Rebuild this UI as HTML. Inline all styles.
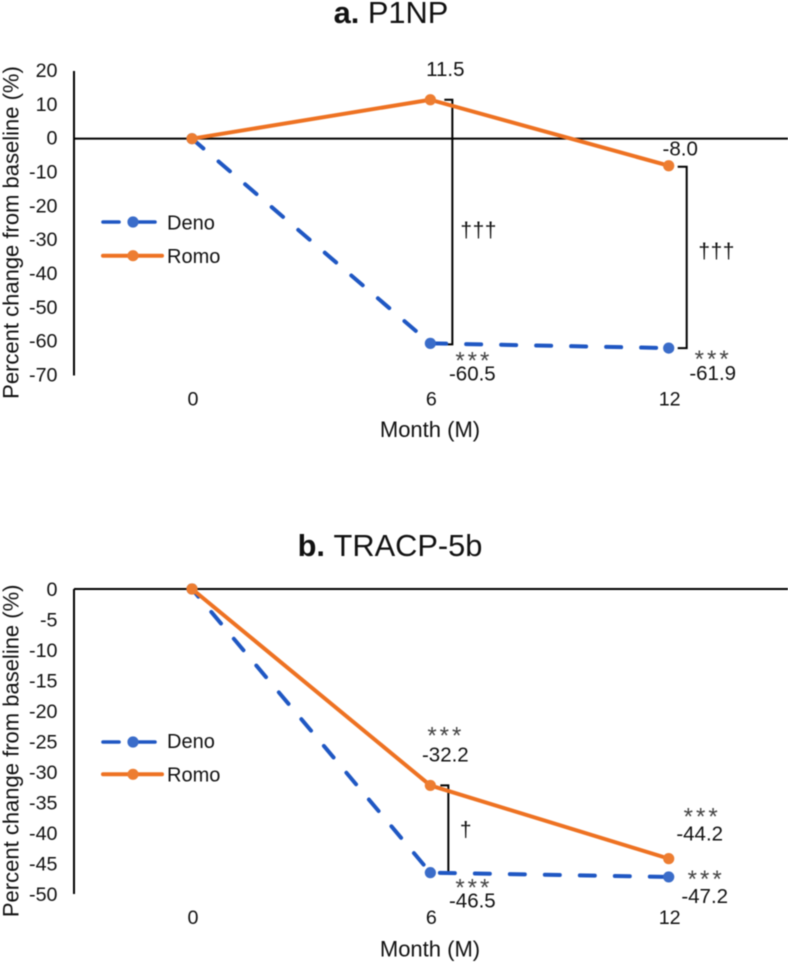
<!DOCTYPE html>
<html lang="en">
<head>
<meta charset="utf-8">
<title>P1NP and TRACP-5b percent change from baseline</title>
<style>
html,body{margin:0;padding:0;background:#fff;}
body{width:788px;height:963px;overflow:hidden;}
svg{display:block;filter:blur(0.5px);}
text{font-family:"Liberation Sans",sans-serif;fill:#111;}
</style>
</head>
<body>
<svg id="figure" xmlns="http://www.w3.org/2000/svg" width="788" height="963" viewBox="0 0 788 963"></svg>
<script>
const months = ['0', '6', '12'];
const p1npTicks = [20, 10, 0, -10, -20, -30, -40, -50, -60, -70];
const p1npDeno = [0, -60.5, -61.9];
const p1npRomo = [0, 11.5, -8.0];
const tracpTicks = [0, -5, -10, -15, -20, -25, -30, -35, -40, -45, -50];
const tracpDeno = [0, -46.5, -47.2];
const tracpRomo = [0, -32.2, -44.2];

const NS = 'http://www.w3.org/2000/svg';
const svg = document.getElementById('figure');
const BLUE = '#1f57c3';
const BLUE_MARK = '#3a6cc9';
const ORANGE = '#ee7222';
const ORANGE_MARK = '#ed7d31';

function xScale(i) {
  return 192 + (668.7 - 192) * i / (months.length - 1);
}
function yScaleFor(ticks, top, bottom) {
  const hi = ticks[0];
  const lo = ticks[ticks.length - 1];
  return function (v) {
    return top + (hi - v) / (hi - lo) * (bottom - top);
  };
}
function addText(parent, name, str, x, y, size, anchor) {
  const el = document.createElementNS(NS, 'text');
  
  
  el.setAttribute('x', x);
  el.setAttribute('y', y);
  el.setAttribute('font-size', size);
  el.setAttribute('text-anchor', anchor);
  el.textContent = str;
  parent.appendChild(el);
  return el;
}
function addPath(parent, name, d, stroke, width) {
  const el = document.createElementNS(NS, 'path');
  
  
  el.setAttribute('d', d);
  el.setAttribute('fill', 'none');
  el.setAttribute('stroke', stroke);
  el.setAttribute('stroke-width', width);
  parent.appendChild(el);
  return el;
}
function addDot(parent, name, x, y, fill) {
  const el = document.createElementNS(NS, 'circle');
  
  
  el.setAttribute('cx', x);
  el.setAttribute('cy', y);
  el.setAttribute('r', 5.6);
  el.setAttribute('fill', fill);
  parent.appendChild(el);
  return el;
}
function linePath(values, y) {
  return values.map(function (v, i) {
    return (i ? 'L' : 'M') + xScale(i) + ' ' + y(v);
  }).join(' ');
}
function drawSeries(g, key, values, y, stroke, markFill, dashed, dashOffset) {
  const line = addPath(g, key + '-line', linePath(values, y), stroke, 4);
  line.setAttribute('stroke-linejoin', 'round');
  if (dashed) {
    line.setAttribute('stroke-dasharray', '15 20');
    line.setAttribute('stroke-dashoffset', dashOffset);
    line.setAttribute('stroke-linecap', 'round');
  }
  values.forEach(function (v, i) {
    addDot(g, key + '-point-month-' + months[i], xScale(i), y(v), markFill);
  });
}
function drawBracket(g, name, xLeft, xRight, yTop, yBottom) {
  addPath(g, name, 'M' + xLeft + ' ' + yTop + ' H' + xRight + ' V' + yBottom + ' H' + xLeft, '#000', 2);
}
function drawStars(g, name, x, yMid) {
  const el = addText(g, name, '***', x + 1.5, yMid + 11, 24, 'middle');
  el.setAttribute('letter-spacing', '3');
  el.style.fill = '#444';
}
function drawDaggers(g, name, str, x, baseline) {
  const el = addText(g, name, str, x, baseline, 21, 'middle');
  el.setAttribute('letter-spacing', '0.5');
}
function drawValue(g, name, value, x, baseline) {
  addText(g, name, value.toFixed(1), x, baseline, 20.5, 'middle');
}
function drawLegend(g, dashY, dashTextY, solidY, solidTextY) {
  const deno = document.createElementNS(NS, 'g');
  
  
  g.appendChild(deno);
  const d1 = addPath(deno, 'legend-deno-swatch', 'M103 ' + dashY + ' H119 M131 ' + dashY + ' H155', BLUE, 3.6);
  d1.setAttribute('stroke-linecap', 'round');
  addDot(deno, 'legend-deno-marker', 133, dashY, BLUE_MARK);
  addText(deno, 'legend-deno-label', 'Deno', 167, dashTextY, 20, 'start');
  const romo = document.createElementNS(NS, 'g');
  
  
  g.appendChild(romo);
  const r1 = addPath(romo, 'legend-romo-swatch', 'M103 ' + solidY + ' H162', ORANGE, 4);
  r1.setAttribute('stroke-linecap', 'round');
  addDot(romo, 'legend-romo-marker', 133, solidY, ORANGE_MARK);
  addText(romo, 'legend-romo-label', 'Romo', 167, solidTextY, 20, 'start');
}
function drawTitle(g, name, letter, label, x, baseline) {
  const t = addText(g, name, '', x, baseline, 30.8, 'middle');
  const b = document.createElementNS(NS, 'tspan');
  b.setAttribute('font-weight', 'bold');
  b.textContent = letter + ' ';
  t.appendChild(b);
  t.appendChild(document.createTextNode(label));
}
function drawFrame(g, ticks, y, zeroWidth, tickOffset, xTickBase, xTitleBase, yTitleMid) {
  const top = y(ticks[0]);
  const bottom = y(ticks[ticks.length - 1]);
  addPath(g, 'y-axis', 'M74 ' + top + ' V' + bottom, '#000', 2);
  addPath(g, 'x-axis-zero-line', 'M74 ' + y(0) + ' H788', '#000', zeroWidth);
  ticks.forEach(function (t) {
    addText(g, 'y-tick-' + t, String(t), 57.5, y(t) + tickOffset, 19.7, 'end');
  });
  months.forEach(function (m, i) {
    addText(g, 'x-tick-' + m, m, xScale(i) + 1, xTickBase, 19.7, 'middle');
  });
  addText(g, 'x-axis-title', 'Month (M)', 430, xTitleBase, 22, 'middle');
  const yt = addText(g, 'y-axis-title', 'Percent change from baseline (%)', 0, 0, 22, 'middle');
  yt.setAttribute('transform', 'translate(18.5 ' + yTitleMid + ') rotate(-90)');
}

/* Panel a: P1NP */
const panelA = document.createElementNS(NS, 'g');


svg.appendChild(panelA);
const yA = yScaleFor(p1npTicks, 71, 375.5);
drawTitle(panelA, 'p1np-chart-title', 'a.', 'P1NP', 391, 23);
drawFrame(panelA, p1npTicks, yA, 2, 6, 405.7, 437, 232.5);
drawBracket(panelA, 'significance-bracket-month-6', xScale(1) + 14, xScale(1) + 22, yA(p1npRomo[1]), yA(p1npDeno[1]) + 1);
drawBracket(panelA, 'significance-bracket-month-12', xScale(2) + 9, xScale(2) + 18, yA(p1npRomo[2]) + 1, yA(p1npDeno[2]));
drawSeries(panelA, 'deno-series', p1npDeno, yA, BLUE, BLUE_MARK, true, 0);
drawSeries(panelA, 'romo-series', p1npRomo, yA, ORANGE, ORANGE_MARK, false, 0);
drawLegend(panelA, 222, 229.5, 255.7, 263);
drawValue(panelA, 'romo-value-month-6', p1npRomo[1], xScale(1) + 15, yA(p1npRomo[1]) - 24);
drawValue(panelA, 'romo-value-month-12', p1npRomo[2], xScale(2) + 11.5, yA(p1npRomo[2]) - 10);
drawValue(panelA, 'deno-value-month-6', p1npDeno[1], xScale(1) + 42, yA(p1npDeno[1]) + 37);
drawValue(panelA, 'deno-value-month-12', p1npDeno[2], xScale(2) + 44, yA(p1npDeno[2]) + 32);
drawStars(panelA, 'deno-significance-stars-month-6', xScale(1) + 42, yA(p1npDeno[1]) + 14);
drawStars(panelA, 'deno-significance-stars-month-12', xScale(2) + 43, yA(p1npDeno[2]) + 8);
drawDaggers(panelA, 'between-group-daggers-month-6', '†††', 478.7, 237);
drawDaggers(panelA, 'between-group-daggers-month-12', '†††', 716.7, 258);

/* Panel b: TRACP-5b */
const panelB = document.createElementNS(NS, 'g');


svg.appendChild(panelB);
const yB = yScaleFor(tracpTicks, 589, 894);
drawTitle(panelB, 'tracp-5b-chart-title', 'b.', 'TRACP-5b', 390, 556);
drawFrame(panelB, tracpTicks, yB, 2, 7, 924, 956.7, 750.8);
drawBracket(panelB, 'significance-bracket-month-6-b', xScale(1) + 10, xScale(1) + 18, yB(tracpRomo[1]), yB(tracpDeno[1]) + 1);
drawSeries(panelB, 'deno-series-b', tracpDeno, yB, BLUE, BLUE_MARK, true, 5);
drawSeries(panelB, 'romo-series-b', tracpRomo, yB, ORANGE, ORANGE_MARK, false, 0);
drawLegend(panelB, 742, 748, 774.3, 781.7);
drawValue(panelB, 'romo-value-month-6-b', tracpRomo[1], xScale(1) + 15, yB(tracpRomo[1]) - 24);
drawValue(panelB, 'romo-value-month-12-b', tracpRomo[2], xScale(2) + 31, yB(tracpRomo[2]) - 18);
drawValue(panelB, 'deno-value-month-6-b', tracpDeno[1], xScale(1) + 42, yB(tracpDeno[1]) + 35);
drawValue(panelB, 'deno-value-month-12-b', tracpDeno[2], xScale(2) + 36, yB(tracpDeno[2]) + 26);
drawStars(panelB, 'romo-significance-stars-month-6-b', xScale(1) + 14, yB(tracpRomo[1]) - 53);
drawStars(panelB, 'romo-significance-stars-month-12-b', xScale(2) + 32, yB(tracpRomo[2]) - 45);
drawStars(panelB, 'deno-significance-stars-month-6-b', xScale(1) + 42, yB(tracpDeno[1]) + 12);
drawStars(panelB, 'deno-significance-stars-month-12-b', xScale(2) + 36, yB(tracpDeno[2]) - 1);
drawDaggers(panelB, 'between-group-dagger-month-6-b', '†', 466, 836.7);
</script>
</body>
</html>
